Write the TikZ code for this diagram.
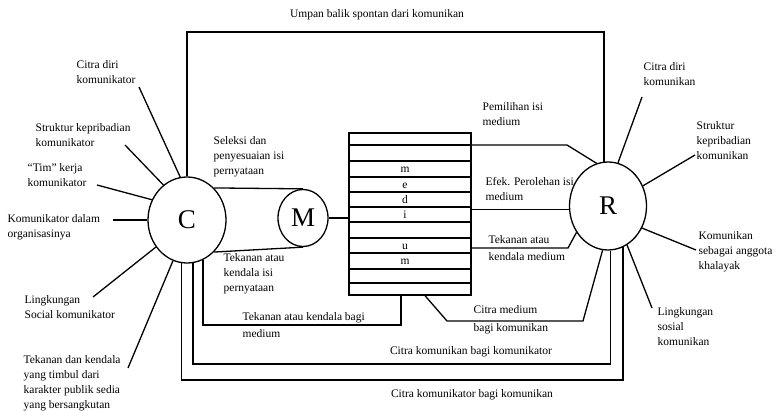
\documentclass[tikz,border=0pt]{standalone}
\usepackage{fontspec}
\setmainfont{Liberation Serif}
\usetikzlibrary{shapes.geometric}
\begin{document}
\begin{tikzpicture}[x=1pt,y=-1pt, line width=1.3pt,
  lbl/.style={font=\fontsize{11.5}{15}\selectfont, align=left, anchor=west, inner sep=0pt},
  lblw/.style={font=\fontsize{11.5}{17.5}\selectfont, align=left, anchor=west, inner sep=0pt},
  ctr/.style={font=\fontsize{11.5}{15}\selectfont, inner sep=0pt},
  big/.style={draw, ellipse, inner sep=0pt, font=\fontsize{27}{27}\selectfont}]
\useasboundingbox (0,0) rectangle (783,411);

% main nodes
\node[big, minimum width=78pt, minimum height=86pt] (C) at (187,220) {C};
\node[big, minimum width=50pt, minimum height=57pt] (M) at (303,218) {M};
\node[big, minimum width=77pt, minimum height=88pt] (R) at (608,206) {R};
\node[draw, minimum width=122pt, minimum height=162pt, inner sep=0pt] (box) at (410,214) {};

% medium stripes
\foreach \y in {145,161,177,192,207,222,238,253,269,283}{
  \coordinate (s) at (0,\y);
  \draw (box.west |- s) -- (box.east |- s);
}
\foreach \y/\l [count=\i] in {169/m,184.5/e,199.5/d,214.5/i,245.5/u,261/m}
  \node[ctr, anchor=base] (let\i) at (405,\y+4) {\l};

% helper coordinates
\coordinate (yTop) at (0,32);
\coordinate (y145) at (0,145);
\coordinate (y248) at (0,248);
\coordinate (y325) at (0,325);
\coordinate (y364) at (0,364);
\coordinate (y380) at (0,380);
\coordinate (x401) at (401,0);
\coordinate (x425) at (425,0);

% feedback loop
\draw (C.north) -- (C.north |- yTop) -- (R.95 |- yTop) -- (R.95);
% C to M
\draw (C.50) -- (M.north);
\draw (C.310) -- (M.south);
\draw (M.east) -- (M.east -| box.west);
% medium to R
\draw (box.east |- y145) -- (567,145) -- (R.105);
\draw (box.east |- R.185) -- (R.185);
\draw (box.east |- y248) -- (568,248) -- (R.220);
\draw (x425 |- box.south) -- (447,321) -- (583,321) -- (R.263);
% bottom loops
\draw (C.292) -- (C.292 |- y325) -- (x401 |- y325) -- (x401 |- box.south);
\draw (C.278) -- (C.278 |- y364) -- (R.273 |- y364) -- (R.273);
\draw (C.263) -- (C.263 |- y380) -- (R.290 |- y380) -- (R.290);

% spokes of C
\coordinate (e1) at (139,87);
\coordinate (e2) at (125,145);
\coordinate (e3) at (97,185);
\coordinate (e4) at (113,220);
\coordinate (e5) at (93,297);
\coordinate (e6) at (128,368);
\draw (e1) -- (C.99);
\draw (e2) -- (C.124);
\draw (e3) -- (C.150);
\draw (e4) -- (C.180);
\draw (e5) -- (C.221);
\draw (e6) -- (C.251);
% spokes of R
\coordinate (f1) at (642,97);
\coordinate (f2) at (695,155);
\coordinate (f3) at (696,250);
\coordinate (f4) at (652,308);
\draw (f1) -- (R.77);
\draw (f2) -- (R.30);
\draw (f3) -- (R.327);
\draw (f4) -- (R.296);

% labels
\node[ctr] (umpan) at (377,15) {Umpan balik spontan dari komunikan};
\node[lbl] (cdk) at (76,72) {Citra diri\\komunikator};
\node[lbl] (skk) at (35,135) {Struktur kepribadian\\komunikator};
\node[lbl] (tim) at (27,175) {“Tim” kerja\\komunikator};
\node[lbl] (kdo) at (7,227) {Komunikator dalam\\organisasinya};
\node[lbl] (lsk) at (24,307) {Lingkungan\\Social komunikator};
\node[lbl] (tdk) at (23,383) {Tekanan dan kendala\\yang timbul dari\\karakter publik sedia\\yang bersangkutan};
\node[lbl] (sdp) at (213,157) {Seleksi dan\\penyesuaian isi\\pernyataan};
\node[lbl] (tki) at (223,274) {Tekanan atau\\kendala isi\\pernyataan};
\node[lblw] (tkbm) at (242,325) {Tekanan atau kendala bagi\\medium};
\node[lbl] (pim) at (482,114) {Pemilihan isi\\medium};
\node[lbl] (epi) at (485,189) {Efek. Perolehan isi\\medium};
\node[lblw] (tkm) at (488,248) {Tekanan atau\\kendala medium};
\node[lblw] (cmb) at (473,320) {Citra medium\\bagi komunikan};
\node[ctr] (ckbk) at (471,352) {Citra komunikan bagi komunikator};
\node[ctr] (ckbn) at (472,395) {Citra komunikator bagi komunikan};
\node[lbl] (cdn) at (643,74) {Citra diri\\komunikan};
\node[lbl] (skn) at (696,141) {Struktur\\kepribadian\\komunikan};
\node[lbl] (ksa) at (698,252) {Komunikan\\sebagai anggota\\khalayak};
\node[lbl] (lsn) at (657,327) {Lingkungan\\sosial\\komunikan};
\end{tikzpicture}
\end{document}
